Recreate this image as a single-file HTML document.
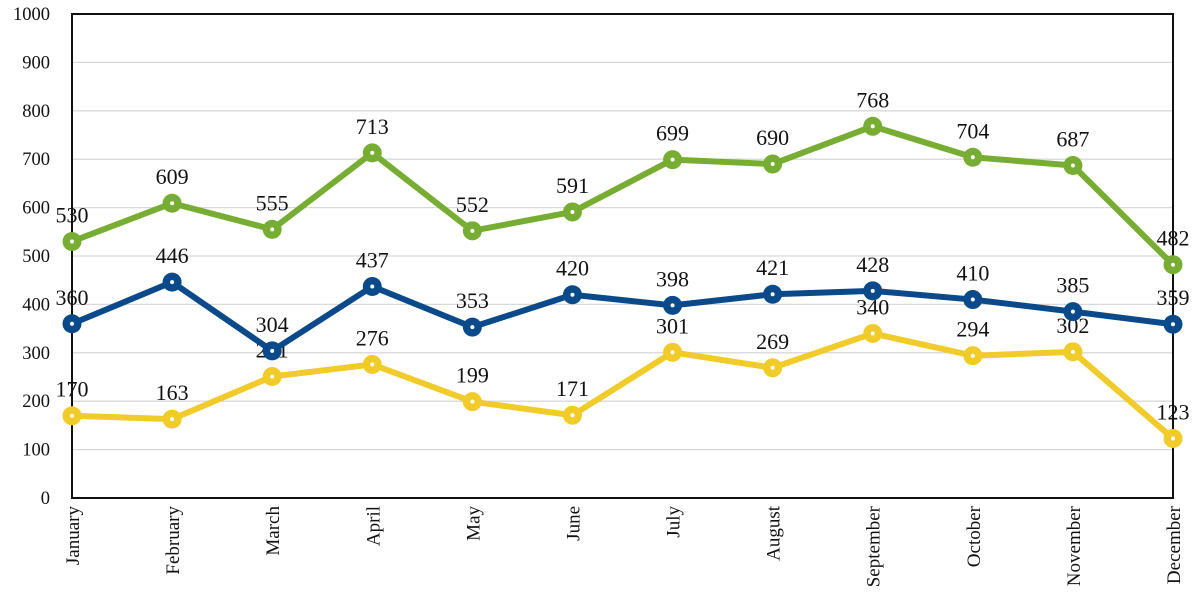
<!DOCTYPE html>
<html><head><meta charset="utf-8">
<style>body{margin:0;background:#fff}svg{display:block;font-family:"Liberation Serif",serif}</style>
</head><body>
<svg id="chart" width="1200" height="594" xmlns="http://www.w3.org/2000/svg"></svg>
<script>
const months=["January","February","March","April","May","June","July","August","September","October","November","December"];
const greenSeries=[530,609,555,713,552,591,699,690,768,704,687,482];
const blueSeries=[360,446,304,437,353,420,398,421,428,410,385,359];
const yellowSeries=[170,163,251,276,199,171,301,269,340,294,302,123];
const yTicks=[0,100,200,300,400,500,600,700,800,900,1000];
const NS="http://www.w3.org/2000/svg";
const svg=document.getElementById('chart');
const L=72,R=1173,T=14,B=498;
const x=i=>L+i*(R-L)/(months.length-1);
const y=v=>B-(v/1000)*(B-T);
function mk(tag,attrs,parent){const e=document.createElementNS(NS,tag);for(const k in attrs)e.setAttribute(k,attrs[k]);(parent||svg).appendChild(e);return e;}
yTicks.forEach(t=>{
  if(t>0&&t<1000){const g=mk('line',{x1:L,x2:R,y1:y(t),y2:y(t),stroke:'#d9d9d9','stroke-width':1.3});
  
  }
  const tx=mk('text',{x:50,y:y(t)+6,'text-anchor':'end','font-size':18.5,fill:'#111'});tx.textContent=t;
  
  
});
const box=mk('rect',{x:L,y:T,width:R-L,height:B-T,fill:'none',stroke:'#111','stroke-width':2});


months.forEach((m,i)=>{
  const t=mk('text',{transform:`translate(${x(i)+7},${B+8}) rotate(-90)`,'text-anchor':'end','font-size':19,fill:'#111'});t.textContent=m;
  
  
});
function series(data,color,name){
  const g=mk('g',{});
  
  
  const pl=mk('polyline',{points:data.map((v,i)=>x(i)+','+y(v)).join(' '),fill:'none',stroke:color,'stroke-width':6,'stroke-linejoin':'round'},g);
  
  
  data.forEach((v,i)=>{
    const c=mk('circle',{cx:x(i),cy:y(v),r:9.5,fill:color},g);
    
    
    mk('circle',{cx:x(i),cy:y(v),r:2,fill:'#fff'},g);
    const t=mk('text',{x:x(i),y:y(v)-19,'text-anchor':'middle','font-size':22,fill:'#111'},g);t.textContent=v;
    
    
  });
}
series(yellowSeries,'#f0cb2a','yellow');
series(blueSeries,'#0a4a8a','blue');
series(greenSeries,'#78ad34','green');
</script>
</body></html>
